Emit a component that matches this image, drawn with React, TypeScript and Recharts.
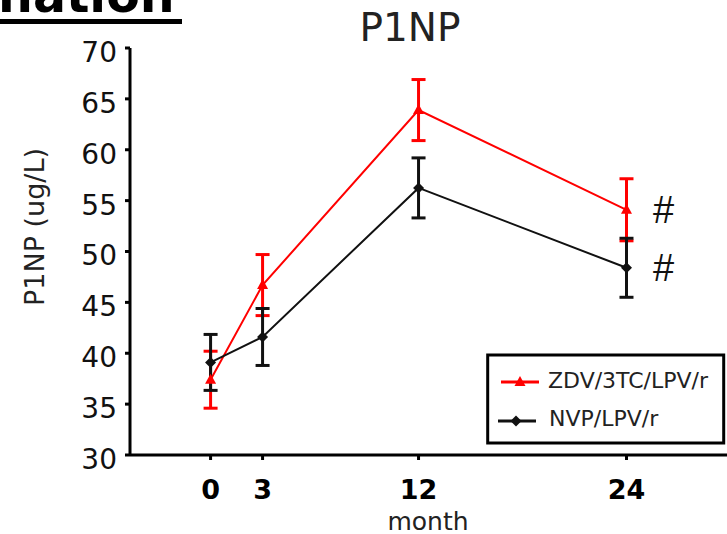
import React from 'react';
import { LineChart, Line, XAxis, YAxis, ErrorBar, LabelList } from 'recharts';

// months on study
const months = [0, 3, 12, 24];
// ZDV/3TC/LPV/r arm
const zdvMean = [37.4, 46.7, 63.9, 54.1];
const zdvErr = [2.8, 3.0, 3.0, 3.05];
// NVP/LPV/r arm
const nvpMean = [39.1, 41.6, 56.25, 48.4];
const nvpErr = [2.75, 2.8, 2.95, 2.9];
// significance flags
const zdvSig = ['', '', '', '#'];
const nvpSig = ['', '', '', '#'];
const yTicks = [30, 35, 40, 45, 50, 55, 60, 65, 70];

const data = months.map((m, i) => ({
  month: m,
  zdv: zdvMean[i],
  zdvErr: zdvErr[i],
  zdvSig: zdvSig[i],
  nvp: nvpMean[i],
  nvpErr: nvpErr[i],
  nvpSig: nvpSig[i],
}));

const RED = '#ff0000';
const BLACK = '#111111';
const FONT = 'DejaVu Sans';

const Triangle = (props: any) => {
  const { cx, cy } = props;
  if (cx == null || cy == null) return null;
  return <polygon points={`${cx},${cy - 6} ${cx + 5.5},${cy + 4} ${cx - 5.5},${cy + 4}`} fill={RED} />;
};

const Diamond = (props: any) => {
  const { cx, cy } = props;
  if (cx == null || cy == null) return null;
  return <polygon points={`${cx},${cy - 5.5} ${cx + 5.5},${cy} ${cx},${cy + 5.5} ${cx - 5.5},${cy}`} fill={BLACK} />;
};

const sigLabel = (props: any) => {
  const { x, y, value } = props;
  if (!value) return null;
  return (
    <text x={x + 37} y={y + 13} textAnchor="middle" fontFamily="Liberation Sans" fontSize={38} fill="#111">
      {value}
    </text>
  );
};

const YTick = (props: any) => {
  const { x, y, payload } = props;
  return (
    <text x={x} y={y + 4} dy="0.355em" textAnchor="end" fontFamily={FONT} fontSize={28} fill="#111">
      {payload.value}
    </text>
  );
};

export default function App() {
  return (
    <div style={{ position: 'absolute', left: 0, top: 0, width: 727, height: 534, overflow: 'hidden', background: '#fff' }}>
      <LineChart width={727} height={534} data={data} margin={{ top: 48, right: 0, bottom: 0, left: 0 }}>
        <XAxis
          type="number"
          dataKey="month"
          domain={[-4.65, 29.8]}
          allowDataOverflow
          ticks={months}
          interval={0}
          height={79}
          tickSize={5}
          tickMargin={20}
          axisLine={{ stroke: '#000', strokeWidth: 3 }}
          tickLine={{ stroke: '#000', strokeWidth: 3 }}
          tick={{ fontFamily: FONT, fontSize: 27, fontWeight: 'bold', fill: '#000' }}
        />
        <YAxis
          type="number"
          domain={[30, 70]}
          ticks={yTicks}
          interval={0}
          width={130}
          tickSize={5}
          tickMargin={8}
          axisLine={{ stroke: '#000', strokeWidth: 3 }}
          tickLine={{ stroke: '#000', strokeWidth: 3 }}
          tick={<YTick />}
        />
        <Line dataKey="zdv" stroke={RED} strokeWidth={2} dot={<Triangle />} activeDot={false} isAnimationActive={false}>
          <ErrorBar dataKey="zdvErr" direction="y" width={7} stroke={RED} strokeWidth={3} />
          <LabelList dataKey="zdvSig" content={sigLabel} />
        </Line>
        <Line dataKey="nvp" stroke={BLACK} strokeWidth={2} dot={<Diamond />} activeDot={false} isAnimationActive={false}>
          <ErrorBar dataKey="nvpErr" direction="y" width={7} stroke={BLACK} strokeWidth={3} />
          <LabelList dataKey="nvpSig" content={sigLabel} />
        </Line>
      </LineChart>
      <svg width={727} height={534} style={{ position: 'absolute', left: 0, top: 0, pointerEvents: 'none' }}>
        <text x={-2} y={12} fontFamily={FONT} fontWeight="bold" fontSize={49} fill="#000">nation</text>
        <rect x={0} y={19} width={182} height={5} fill="#000" />
        <text x={410} y={41} textAnchor="middle" fontFamily={FONT} fontSize={39} fill="#222">P1NP</text>
        <text x={44} y={227} transform="rotate(-90, 44, 227)" textAnchor="middle" fontFamily={FONT} fontSize={27} fill="#222">
          P1NP (ug/L)
        </text>
        <text x={428} y={530} textAnchor="middle" fontFamily={FONT} fontSize={25} fill="#222">month</text>
        <rect x={487.7} y={355} width={236} height={88} fill="#fff" stroke="#000" strokeWidth={3} />
        <line x1={501} y1={382} x2={539} y2={382} stroke={RED} strokeWidth={3} />
        <Triangle cx={520} cy={382} />
        <text x={548} y={388} fontFamily={FONT} fontSize={22} fill="#222">ZDV/3TC/LPV/r</text>
        <line x1={498} y1={421} x2={536} y2={421} stroke={BLACK} strokeWidth={3} />
        <Diamond cx={516} cy={421} />
        <text x={549} y={426} fontFamily={FONT} fontSize={22} fill="#222">NVP/LPV/r</text>
      </svg>
    </div>
  );
}
